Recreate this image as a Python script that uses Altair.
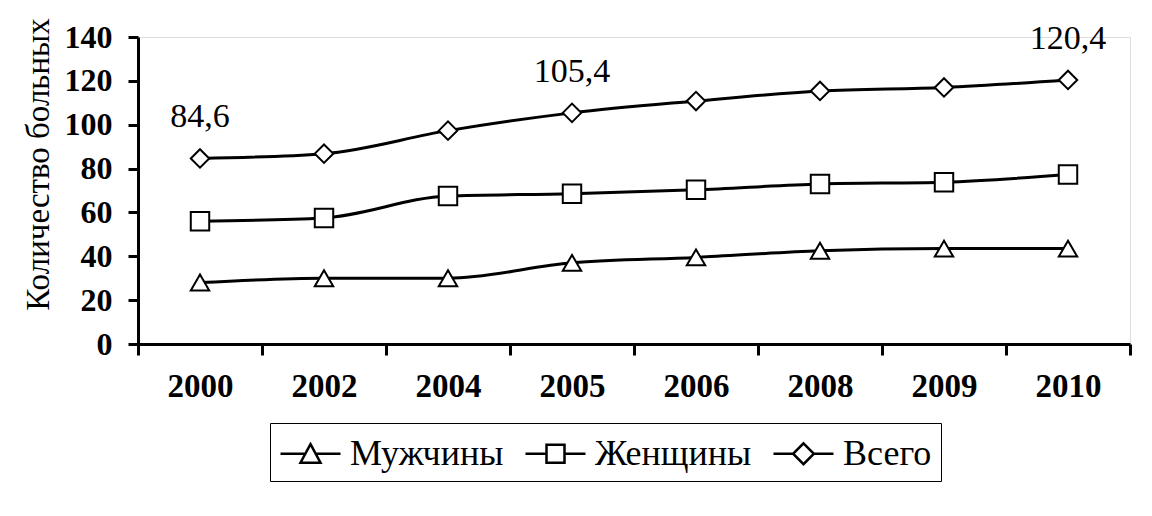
import altair as alt
import pandas as pd

years = ["2000", "2002", "2004", "2005", "2006", "2008", "2009", "2010"]
series_names = ["Мужчины", "Женщины", "Всего"]
men = [28, 30, 30, 37, 39.5, 42.5, 43.5, 43.5]
women = [56, 57.5, 67.5, 68.5, 70.3, 73, 73.8, 77.3]
total = [84.6, 86.8, 97.3, 105.4, 110.8, 115.4, 117, 120.4]
total_labels = ["84,6", "", "", "105,4", "", "", "", "120,4"]

rows = []
for name, vals in zip(series_names, [men, women, total]):
    for i, (y, v) in enumerate(zip(years, vals)):
        lab = total_labels[i] if name == "Всего" else ""
        rows.append({"year": y, "series": name, "value": v, "label": lab})
df = pd.DataFrame(rows)

FONT = "Liberation Serif"

x = alt.X("year:N", sort=years, title=None,
          scale=alt.Scale(paddingInner=0, paddingOuter=0),
          axis=alt.Axis(tickBand="extent", labelAngle=0, labelFont=FONT,
                        labelFontSize=33, labelFontWeight="bold", labelColor="black",
                        labelPadding=15, tickSize=11, tickWidth=3, tickColor="black",
                        domainWidth=3, domainColor="black", grid=False))
y = alt.Y("value:Q", title="Количество больных",
          scale=alt.Scale(domain=[0, 140]),
          axis=alt.Axis(values=[0, 20, 40, 60, 80, 100, 120, 140], labelFont=FONT,
                        labelFontSize=32, labelFontWeight="bold", labelColor="black",
                        labelPadding=16, tickSize=10, tickWidth=3, tickColor="black",
                        domainWidth=3, domainColor="black", grid=False,
                        titleFont=FONT, titleFontSize=33, titleFontWeight="normal",
                        titleColor="black", titleX=-100, titleY=127,
                        titleBaseline="middle", titleAlign="center"))

base = alt.Chart(df)

lines = base.mark_line(color="black", strokeWidth=3, interpolate="monotone").encode(
    x=x, y=y, detail="series:N")

shape_sort = series_names
points = base.mark_point(filled=True, fill="white", stroke="black", strokeWidth=2,
                         size=340, opacity=1).encode(
    x=x, y=y,
    shape=alt.Shape("series:N", sort=shape_sort, legend=None,
                    scale=alt.Scale(domain=series_names,
                                    range=["triangle-up", "square", "diamond"])))

legend_paths = [
    "M-1.5,0H-0.24M0.24,0H1.5M0,-0.48L0.5,0.45H-0.5Z",
    "M-1.5,0H-0.45M0.45,0H1.5M-0.45,-0.45H0.45V0.45H-0.45Z",
    "M-1.5,0H-0.52M0.52,0H1.5M0,-0.52L0.52,0L0,0.52L-0.52,0Z",
]
legend_layer = base.mark_point(opacity=0, size=1600).encode(
    x=x, y=y,
    shape=alt.Shape("series:N", sort=shape_sort,
                    scale=alt.Scale(domain=series_names, range=legend_paths),
                    legend=alt.Legend(title=None, orient="none", direction="horizontal",
                                      legendX=132, legendY=386,
                                      symbolSize=1600, symbolOpacity=1,
                                      symbolFillColor="white", symbolStrokeColor="black",
                                      symbolStrokeWidth=2.5, symbolType="circle",
                                      symbolOffset=10,
                                      labelFont=FONT, labelFontSize=36, labelColor="black",
                                      labelOffset=18, columnPadding=16,
                                      padding=9, strokeColor="black",
                                      fillColor="white")))

texts = base.transform_filter(alt.datum.label != "").mark_text(
    font=FONT, fontSize=34, color="black", dy=-41, baseline="middle").encode(
    x=x, y=y, text="label:N")

chart = alt.layer(lines, points, legend_layer, texts).resolve_scale(
    shape="independent"
).properties(
    width=992, height=307,
    autosize=alt.AutoSizeParams(type="none"),
    padding={"left": 130, "top": 29, "right": 14, "bottom": 164},
).configure_view(stroke=None).configure(background="white", font=FONT)

chart.save("out.html", embed_options={"renderer": "svg", "actions": False})
